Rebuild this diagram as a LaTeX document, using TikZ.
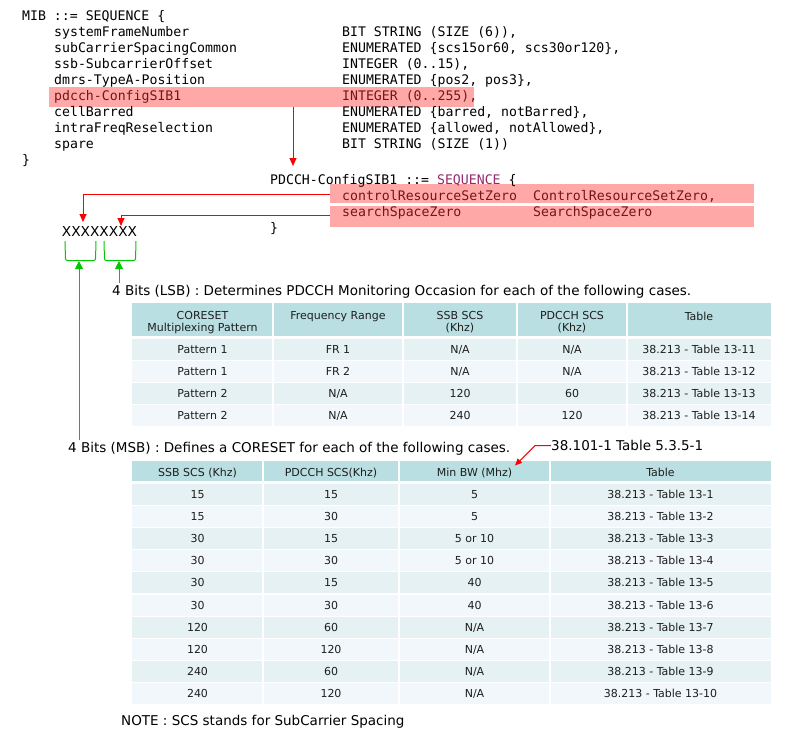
\documentclass[tikz,border=0pt]{standalone}
\usepackage{fontspec}
\setmainfont{DejaVu Sans}
\setmonofont{DejaVu Sans Mono}
\usetikzlibrary{arrows.meta}

\definecolor{hlred}{RGB}{255,168,168}
\definecolor{hltext}{RGB}{120,20,20}
\definecolor{seqpurple}{RGB}{150,40,110}
\definecolor{headcyan}{RGB}{185,223,227}
\definecolor{rowdark}{RGB}{229,241,243}
\definecolor{rowlight}{RGB}{241,247,250}
\definecolor{arrowred}{RGB}{255,0,0}
\definecolor{arrowgreen}{RGB}{0,200,0}
\definecolor{celltext}{RGB}{30,30,30}

\newcommand{\codefont}{\fontsize{13.2}{16}\selectfont\ttfamily}
\newcommand{\bitsfont}{\fontsize{13.5}{16}\selectfont}
\newcommand{\cellfont}{\fontsize{11}{11.5}\selectfont}

\tikzset{
  code/.style={font=\codefont, anchor=base west, inner sep=0pt},
  hlcode/.style={code, text=hltext},
  hlbox/.style={fill=hlred, anchor=north west, inner sep=0pt},
  bitstext/.style={font=\bitsfont, anchor=base west, inner sep=0pt},
  cell/.style={font=\cellfont, text=celltext, anchor=base, inner sep=0pt},
  headcell/.style={cell, anchor=north, align=center},
  redarrow/.style={draw=arrowred, line width=1pt, -{Triangle[width=7pt,length=8pt]}},
  greenarrow/.style={draw=arrowgreen, line width=1pt, -{Triangle[width=8pt,length=8pt]}},
  bracket/.style={draw=arrowgreen, line width=1pt, rounded corners=2pt},
}

\begin{document}
\begin{tikzpicture}[x=1pt,y=-1pt]
    \fill[white] (0,0) rectangle (786,737);
    \useasboundingbox (0,0) rectangle (786,737);

    % MIB
    \node[hlbox, minimum width=425pt, minimum height=20pt] (hlpdcch) at (49,87) {};
    \node[code] (mibhead) at (22,20.5) {MIB ::= SEQUENCE \{};
    \node[code] (sfn) at (54,36.5) {systemFrameNumber};
    \node[code] (sfntype) at (342,36.5) {BIT STRING (SIZE (6)),};
    \node[code] (scs) at (54,52.5) {subCarrierSpacingCommon};
    \node[code] (scstype) at (342,52.5) {ENUMERATED \{scs15or60, scs30or120\},};
    \node[code] (ssb) at (54,68.5) {ssb-SubcarrierOffset};
    \node[code] (ssbtype) at (342,68.5) {INTEGER (0..15),};
    \node[code] (dmrs) at (54,84.5) {dmrs-TypeA-Position};
    \node[code] (dmrstype) at (342,84.5) {ENUMERATED \{pos2, pos3\},};
    \node[hlcode] (pdcch) at (54,100.5) {pdcch-ConfigSIB1};
    \node[hlcode] (pdcchtype) at (342,100.5) {INTEGER (0..255),};
    \node[code] (barred) at (54,116.5) {cellBarred};
    \node[code] (barredtype) at (342,116.5) {ENUMERATED \{barred, notBarred\},};
    \node[code] (intra) at (54,132.5) {intraFreqReselection};
    \node[code] (intratype) at (342,132.5) {ENUMERATED \{allowed, notAllowed\},};
    \node[code] (spare) at (54,148.5) {spare};
    \node[code] (sparetype) at (342,148.5) {BIT STRING (SIZE (1))};
    \node[code] (mibclose) at (22,164.5) {\}};

    % PDCCH-ConfigSIB1
    \node[hlbox, minimum width=424pt, minimum height=19pt] (hlctrl) at (330,184) {};
    \node[hlbox, minimum width=424pt, minimum height=21pt] (hlsearch) at (330,206) {};
    \node[code] (sibhead) at (270,184.3) {PDCCH-ConfigSIB1 ::= \textcolor{seqpurple}{SEQUENCE} \{};
    \node[hlcode] (ctrl) at (342,200.5) {controlResourceSetZero};
    \node[hlcode] (ctrltype) at (533,200.5) {ControlResourceSetZero,};
    \node[hlcode] (search) at (342,216.5) {searchSpaceZero};
    \node[hlcode] (searchtype) at (533,216.5) {SearchSpaceZero};
    \node[code] (sibclose) at (270,232.5) {\}};

    \node[font=\fontsize{13.7}{16}\selectfont, anchor=base, inner sep=0pt] (bits) at (99.5,236) {XXXXXXXX};

    \coordinate (sibtip) at (293,166);
    \coordinate (msbtip) at (83,222);
    \coordinate (lsbtip) at (121,226);
    \draw[redarrow] (hlpdcch.south -| sibtip) -- (sibtip);
    \draw[redarrow] ([yshift=-0.5pt]hlctrl.west) -| (msbtip);
    \draw[redarrow] ([yshift=1.5pt]hlsearch.west) -| (lsbtip);

    % brackets
    \draw[bracket] (65,241) -- (65.5,260.5) -- (95.5,260.5) -- (96,241);
    \draw[bracket] (104,241) -- (104.5,260.5) -- (135.5,260.5) -- (136,241);

    \node[bitstext] (lsblabel) at (112,295) {4 Bits (LSB) : Determines PDCCH Monitoring Occasion for each of the following cases.};
    \node[bitstext] (msblabel) at (68,452.7) {4 Bits (MSB) : Defines a CORESET for each of the following cases.};
    \node[bitstext] (specref) at (551,450.7) {38.101-1 Table 5.3.5-1};
    \node[bitstext] (note) at (121,725) {NOTE : SCS stands for SubCarrier Spacing};

    \coordinate (msbbrk) at (79,261);
    \coordinate (lsbbrk) at (119,261);
    \draw[greenarrow, shorten <=2pt] (msbbrk |- msblabel.north) -- (msbbrk);
    \draw[greenarrow, shorten <=2pt] (lsbbrk |- lsblabel.north) -- (lsbbrk);

    % table 1
    \fill[headcyan] (132,303) rectangle (771,336);
    \foreach \r in {1,...,4}{
      \ifodd\r \def\rowcol{rowdark}\else \def\rowcol{rowlight}\fi
      \fill[\rowcol] (132,{339+22*(\r-1)}) rectangle (771,{360+22*(\r-1)});
    }
    \foreach \x in {273,403,517,627}
      \draw[white, line width=2pt] (\x,300) -- (\x,430);
    \node[headcell] (hmux) at (202.5,311.5) {CORESET\\Multiplexing Pattern};
    \node[headcell] (hfr) at (338,311.5) {Frequency Range};
    \node[headcell] (hssb) at (460,311.5) {SSB SCS\\(Khz)};
    \node[headcell] (hpdcch) at (572,311.5) {PDCCH SCS\\(Khz)};
    \node[headcell] (htab) at (699,311.5) {Table};
    \foreach \a/\b/\c/\d/\e [count=\r] in {
      Pattern 1/FR 1/{N/A}/{N/A}/38.213 - Table 13-11,
      Pattern 1/FR 2/{N/A}/{N/A}/38.213 - Table 13-12,
      Pattern 2/{N/A}/120/60/38.213 - Table 13-13,
      Pattern 2/{N/A}/240/120/38.213 - Table 13-14}
    {
      \node[cell] (mux-\r) at (202.5,{353.5+22*(\r-1)}) {\a};
      \node[cell] (fr-\r) at (338,{353.5+22*(\r-1)}) {\b};
      \node[cell] (ssb-\r) at (460,{353.5+22*(\r-1)}) {\c};
      \node[cell] (pdcch-\r) at (572,{353.5+22*(\r-1)}) {\d};
      \node[cell] (tab-\r) at (699,{353.5+22*(\r-1)}) {\e};
    }

    % table 2
    \fill[headcyan] (132,461) rectangle (771,481);
    \foreach \r in {1,...,10}{
      \ifodd\r \def\rowcol{rowdark}\else \def\rowcol{rowlight}\fi
      \fill[\rowcol] (132,{483.5+22.2*(\r-1)}) rectangle (771,{504.5+22.2*(\r-1)});
    }
    \foreach \x in {263,399,550}
      \draw[white, line width=2pt] (\x,458) -- (\x,708);
    \node[cell] (hssbscs) at (197.5,476) {SSB SCS (Khz)};
    \node[cell] (hpdcchscs) at (331,476) {PDCCH SCS(Khz)};
    \node[cell] (hminbw) at (474.5,476) {Min BW (Mhz)};
    \node[cell] (htable) at (660.5,476) {Table};
    \foreach \a/\b/\c/\d [count=\r] in {
      15/15/5/13-1,
      15/30/5/13-2,
      30/15/5 or 10/13-3,
      30/30/5 or 10/13-4,
      30/15/40/13-5,
      30/30/40/13-6,
      120/60/{N/A}/13-7,
      120/120/{N/A}/13-8,
      240/60/{N/A}/13-9,
      240/120/{N/A}/13-10}
    {
      \node[cell] (ssbscs-\r) at (197.5,{498+22.2*(\r-1)}) {\a};
      \node[cell] (pdcchscs-\r) at (331,{498+22.2*(\r-1)}) {\b};
      \node[cell] (minbw-\r) at (474.5,{498+22.2*(\r-1)}) {\c};
      \node[cell] (table-\r) at (660.5,{498+22.2*(\r-1)}) {38.213 - Table \d};
    }

    \coordinate (bwtip) at (515,465.5);
    \draw[draw=arrowred, line width=1pt, -{Triangle[width=6pt,length=7pt]}] (specref.west) -- ++(-16,0) -- (bwtip);
\end{tikzpicture}
\end{document}
